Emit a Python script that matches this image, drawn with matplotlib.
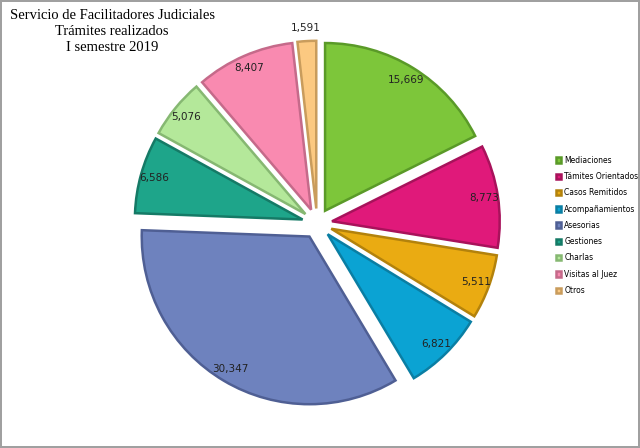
import numpy as np
import matplotlib.pyplot as plt

categories = ["Mediaciones", "Támites Orientados", "Casos Remitidos", "Acompañamientos",
              "Asesorias", "Gestiones", "Charlas", "Visitas al Juez", "Otros"]
values = [15669, 8773, 5511, 6821, 30347, 6586, 5076, 8407, 1591]
colors = ["#7dc63a", "#e0197a", "#eaab12", "#0ba3d3", "#6e82be",
          "#1ea58a", "#b4e89a", "#f98ab0", "#fcc981"]
edges = ["#5a9a28", "#a8125b", "#b3820c", "#0a7ea3", "#4f5f94",
         "#157a66", "#86b872", "#c56a8a", "#c99c5c"]

fig = plt.figure(figsize=(6.4, 4.48), dpi=100)
fig.patch.set_edgecolor("#a0a0a0")
fig.patch.set_linewidth(1.5)

ax = fig.add_axes([0.168, 0.033, 0.655, 0.936])
ax.set_xlim(-1.2, 1.2)
ax.set_ylim(-1.2, 1.2)
ax.set_aspect("equal")
ax.axis("off")

wedges, _ = ax.pie(values, colors=colors, startangle=90, counterclock=False,
                   explode=[0.09] * len(values), radius=1.0,
                   wedgeprops=dict(linewidth=1.8))
for w, ec in zip(wedges, edges):
    w.set_edgecolor(ec)

# value labels, inside end of each slice
for w, v in zip(wedges, values):
    ang = np.deg2rad((w.theta1 + w.theta2) / 2)
    cx, cy = w.center
    d = 0.92 if v > 3000 else 1.08
    ax.text(cx + d * np.cos(ang), cy + d * np.sin(ang), f"{v:,}",
            ha="center", va="center", fontsize=7.5, color="#222222")

fig.text(0.175, 0.98, "Servicio de Facilitadores Judiciales\nTrámites realizados\nI semestre 2019",
         ha="center", va="top", fontsize=10.5, family="Liberation Serif",
         linespacing=1.3)

leg = fig.legend(wedges, categories, loc="center left", bbox_to_anchor=(0.858, 0.497),
                 frameon=False, fontsize=5.5, handlelength=0.7, handleheight=0.7,
                 labelspacing=0.95, handletextpad=0.4)

plt.savefig("out.png", dpi=100)
